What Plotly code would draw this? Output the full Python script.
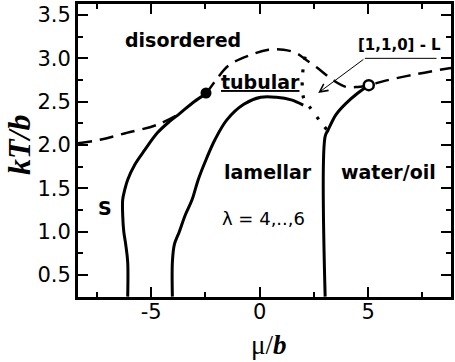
import plotly.graph_objects as go

# Phase boundaries in the (mu/b, kT/b) plane
s_mu = [-6.08, -6.08, -6.17, -6.26, -6.31, -6.31, -6.22, -6.08, -5.76, -5.30, -4.71, -4.16, -3.70, -3.02, -2.47]
s_kt = [0.25, 0.65, 0.85, 1.00, 1.19, 1.37, 1.48, 1.60, 1.77, 1.94, 2.14, 2.27, 2.36, 2.50, 2.59]

lam_mu = [-4.02, -4.02, -3.93, -3.70, -3.43, -3.11, -2.83, -2.47, -2.06, -1.51, -0.73, 0.05, 0.78, 1.46, 2.01]
lam_kt = [0.25, 0.65, 0.85, 1.00, 1.19, 1.37, 1.60, 1.83, 2.06, 2.29, 2.47, 2.55, 2.55, 2.52, 2.46]

wo_mu = [3.02, 3.02, 3.15, 3.52, 3.98, 4.53, 5.03]
wo_kt = [0.25, 2.10, 2.17, 2.35, 2.48, 2.60, 2.69]

# order-disorder line (dashed), left part and right part around the critical point
dis_left_mu = [-8.37, -7.36, -6.13, -4.76, -3.70]
dis_left_kt = [2.02, 2.06, 2.14, 2.23, 2.36]
dis_right_mu = [-2.47, -2.01, -1.42, -0.41, 0.41, 1.10, 1.69, 2.15, 2.61, 3.38, 3.98, 4.53, 5.03, 5.76, 7.27, 8.82]
dis_right_kt = [2.59, 2.75, 2.92, 3.04, 3.10, 3.10, 3.06, 2.98, 2.90, 2.75, 2.67, 2.67, 2.69, 2.74, 2.82, 2.89]

# tubular phase boundary (dotted)
tub_mu = [2.10, 2.01, 1.97, 1.97, 2.06, 2.33, 2.74, 3.15]
tub_kt = [3.02, 2.89, 2.76, 2.63, 2.52, 2.43, 2.29, 2.16]

# special points
crit_mu, crit_kt = [-2.47], [2.60]
open_mu, open_kt = [5.03], [2.69]

x_ticks = [-5, 0, 5]
y_ticks = [0.5, 1.0, 1.5, 2.0, 2.5, 3.0, 3.5]

fig = go.Figure()
solid = dict(color="black", width=3)
fig.add_trace(go.Scatter(x=s_mu, y=s_kt, mode="lines", line=dict(solid, shape="spline")))
fig.add_trace(go.Scatter(x=lam_mu, y=lam_kt, mode="lines", line=dict(solid, shape="spline")))
fig.add_trace(go.Scatter(x=wo_mu, y=wo_kt, mode="lines", line=dict(solid, shape="spline")))
fig.add_trace(go.Scatter(x=dis_left_mu, y=dis_left_kt, mode="lines",
                         line=dict(color="black", width=2.5, dash="14px,8px", shape="spline")))
fig.add_trace(go.Scatter(x=dis_right_mu, y=dis_right_kt, mode="lines",
                         line=dict(color="black", width=2.5, dash="14px,8px", shape="spline")))
fig.add_trace(go.Scatter(x=tub_mu, y=tub_kt, mode="lines",
                         line=dict(color="black", width=3.2, dash="3px,10px", shape="spline")))
fig.add_trace(go.Scatter(x=crit_mu, y=crit_kt, mode="markers",
                         marker=dict(color="black", size=11)))
fig.add_trace(go.Scatter(x=open_mu, y=open_kt, mode="markers",
                         marker=dict(color="white", size=10, line=dict(color="black", width=2.5))))

bold = dict(family="DejaVu Sans", size=19, color="black")
labels = [
    ("<b>disordered</b>", -3.52, 3.21, bold),
    ("<b><u>tubular</u></b>", 0.05, 2.73, bold),
    ("<b>lamellar</b>", 0.37, 1.69, bold),
    ("<b>water/oil</b>", 5.94, 1.69, bold),
    ("<b>S</b>", -7.13, 1.27, bold),
    ("λ = 4,..,6", 0.18, 1.15, dict(family="DejaVu Sans", size=18, color="black")),
    ("<b>[1,1,0] - L</b>", 6.45, 3.15, dict(family="DejaVu Sans", size=15, color="black")),
]
for txt, xx, yy, f in labels:
    fig.add_annotation(x=xx, y=yy, text=txt, showarrow=False, font=f,
                       xanchor="center", yanchor="middle")

# leader line under the [1,1,0] - L label and the arrow
fig.add_shape(type="line", x0=4.85, x1=8.15, y0=3.00, y1=3.00,
              line=dict(color="black", width=1))
fig.add_annotation(x=2.70, y=2.60, ax=4.85, ay=3.00, axref="x", ayref="y",
                   text="", showarrow=True, arrowhead=5, arrowsize=1.6,
                   arrowwidth=1, arrowcolor="black")

axis_common = dict(showline=True, linecolor="black", linewidth=3, mirror="allticks",
                   ticks="inside", tickcolor="black", tickwidth=2, ticklen=10,
                   showgrid=False, zeroline=False,
                   tickfont=dict(family="DejaVu Sans", size=21, color="black"))
fig.update_xaxes(range=[-8.37, 8.82], tickvals=x_ticks, ticktext=[str(v) for v in x_ticks],
                 ticklabelstandoff=-6,
                 minor=dict(ticks="inside", tickvals=[-7.5, -2.5, 2.5, 7.5], ticklen=5,
                            tickwidth=2, tickcolor="black"),
                 **axis_common)
fig.update_yaxes(range=[0.246, 3.627], tickvals=y_ticks, ticktext=[f"{v:.1f}" for v in y_ticks],
                 minor=dict(ticks="inside", tickvals=[0.75, 1.25, 1.75, 2.25, 2.75, 3.25],
                            ticklen=5, tickwidth=2, tickcolor="black"),
                 **axis_common)

fig.add_annotation(xref="paper", yref="paper", x=0.51, y=-0.165, yanchor="middle",
                   text="μ/<b><i>b</i></b>", showarrow=False,
                   font=dict(family="Liberation Serif", size=27, color="black"))
fig.add_annotation(xref="paper", yref="paper", x=-0.16, y=0.52, textangle=-90,
                   xanchor="center", yanchor="middle",
                   text="<b><i>kT/b</i></b>", showarrow=False,
                   font=dict(family="Liberation Serif", size=32, color="black"))

fig.update_layout(width=455, height=362, showlegend=False,
                  margin=dict(l=78, r=1, t=4, b=65),
                  plot_bgcolor="white", paper_bgcolor="white")
fig.write_html("out.html")
